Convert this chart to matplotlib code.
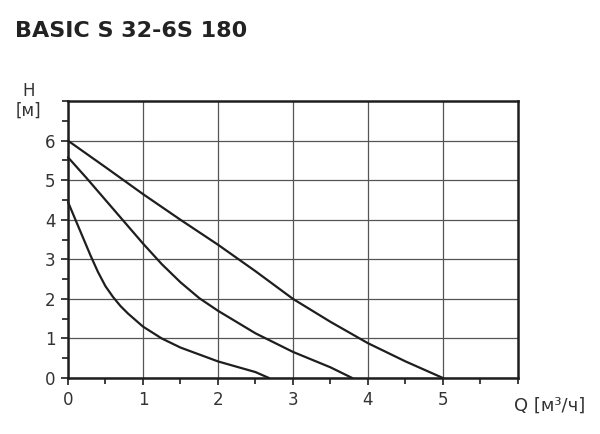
import matplotlib
matplotlib.use("Agg")
import matplotlib.pyplot as plt
from matplotlib.ticker import MultipleLocator

# pump curves: Q [m3/h], H [m]
q_speed3 = [0, 0.5, 1, 1.5, 2, 2.5, 3, 3.5, 4, 4.5, 5]
h_speed3 = [6.0, 5.33, 4.65, 4.0, 3.37, 2.7, 2.0, 1.42, 0.88, 0.42, 0.0]

q_speed2 = [0, 0.25, 0.5, 0.75, 1, 1.25, 1.5, 1.75, 2, 2.5, 3, 3.5, 3.79]
h_speed2 = [5.58, 5.05, 4.5, 3.95, 3.4, 2.88, 2.42, 2.02, 1.7, 1.13, 0.66, 0.27, 0.0]

q_speed1 = [0, 0.1, 0.2, 0.3, 0.4, 0.5, 0.6, 0.7, 0.8, 1, 1.25, 1.5, 2, 2.5, 2.68]
h_speed1 = [4.45, 4.0, 3.55, 3.1, 2.68, 2.32, 2.05, 1.82, 1.63, 1.3, 1.0, 0.77, 0.42, 0.15, 0.0]

x_ticks = [0, 1, 2, 3, 4, 5]
y_ticks = [0, 1, 2, 3, 4, 5, 6]

txt = "#333333"
line = "#1e1e1e"

fig = plt.figure(figsize=(6, 4.34), dpi=100)
ax = fig.add_axes([0.1133, 0.129, 0.75, 0.638])

for q, h in [(q_speed3, h_speed3), (q_speed2, h_speed2), (q_speed1, h_speed1)]:
    ax.plot(q, h, color=line, lw=1.6, solid_capstyle="round",
            solid_joinstyle="round", clip_on=False, zorder=3)

ax.set_xlim(0, 6)
ax.set_ylim(0, 7)
ax.set_xticks(x_ticks)
ax.set_yticks(y_ticks)
ax.xaxis.set_minor_locator(MultipleLocator(0.5))
ax.yaxis.set_minor_locator(MultipleLocator(0.5))
ax.grid(True, which="major", color="#555555", lw=0.9)
ax.tick_params(which="major", direction="out", length=5, width=1.2, color=line,
               labelsize=12, labelcolor=txt, pad=4)
ax.tick_params(which="minor", direction="out", length=4, width=1.2, color=line)
for s in ax.spines.values():
    s.set_linewidth(1.8)
    s.set_color(line)

fig.text(0.025, 0.928, "BASIC S 32-6S 180", fontsize=16, fontweight="bold",
         color="#222222", va="center")
fig.text(0.047, 0.79, "H", fontsize=12, color=txt, ha="center", va="center")
fig.text(0.047, 0.745, "[м]", fontsize=12, color=txt, ha="center", va="center")
fig.text(0.975, 0.064, "Q [м³/ч]", fontsize=13, color=txt, ha="right", va="center")

fig.savefig("out.png", dpi=100)
